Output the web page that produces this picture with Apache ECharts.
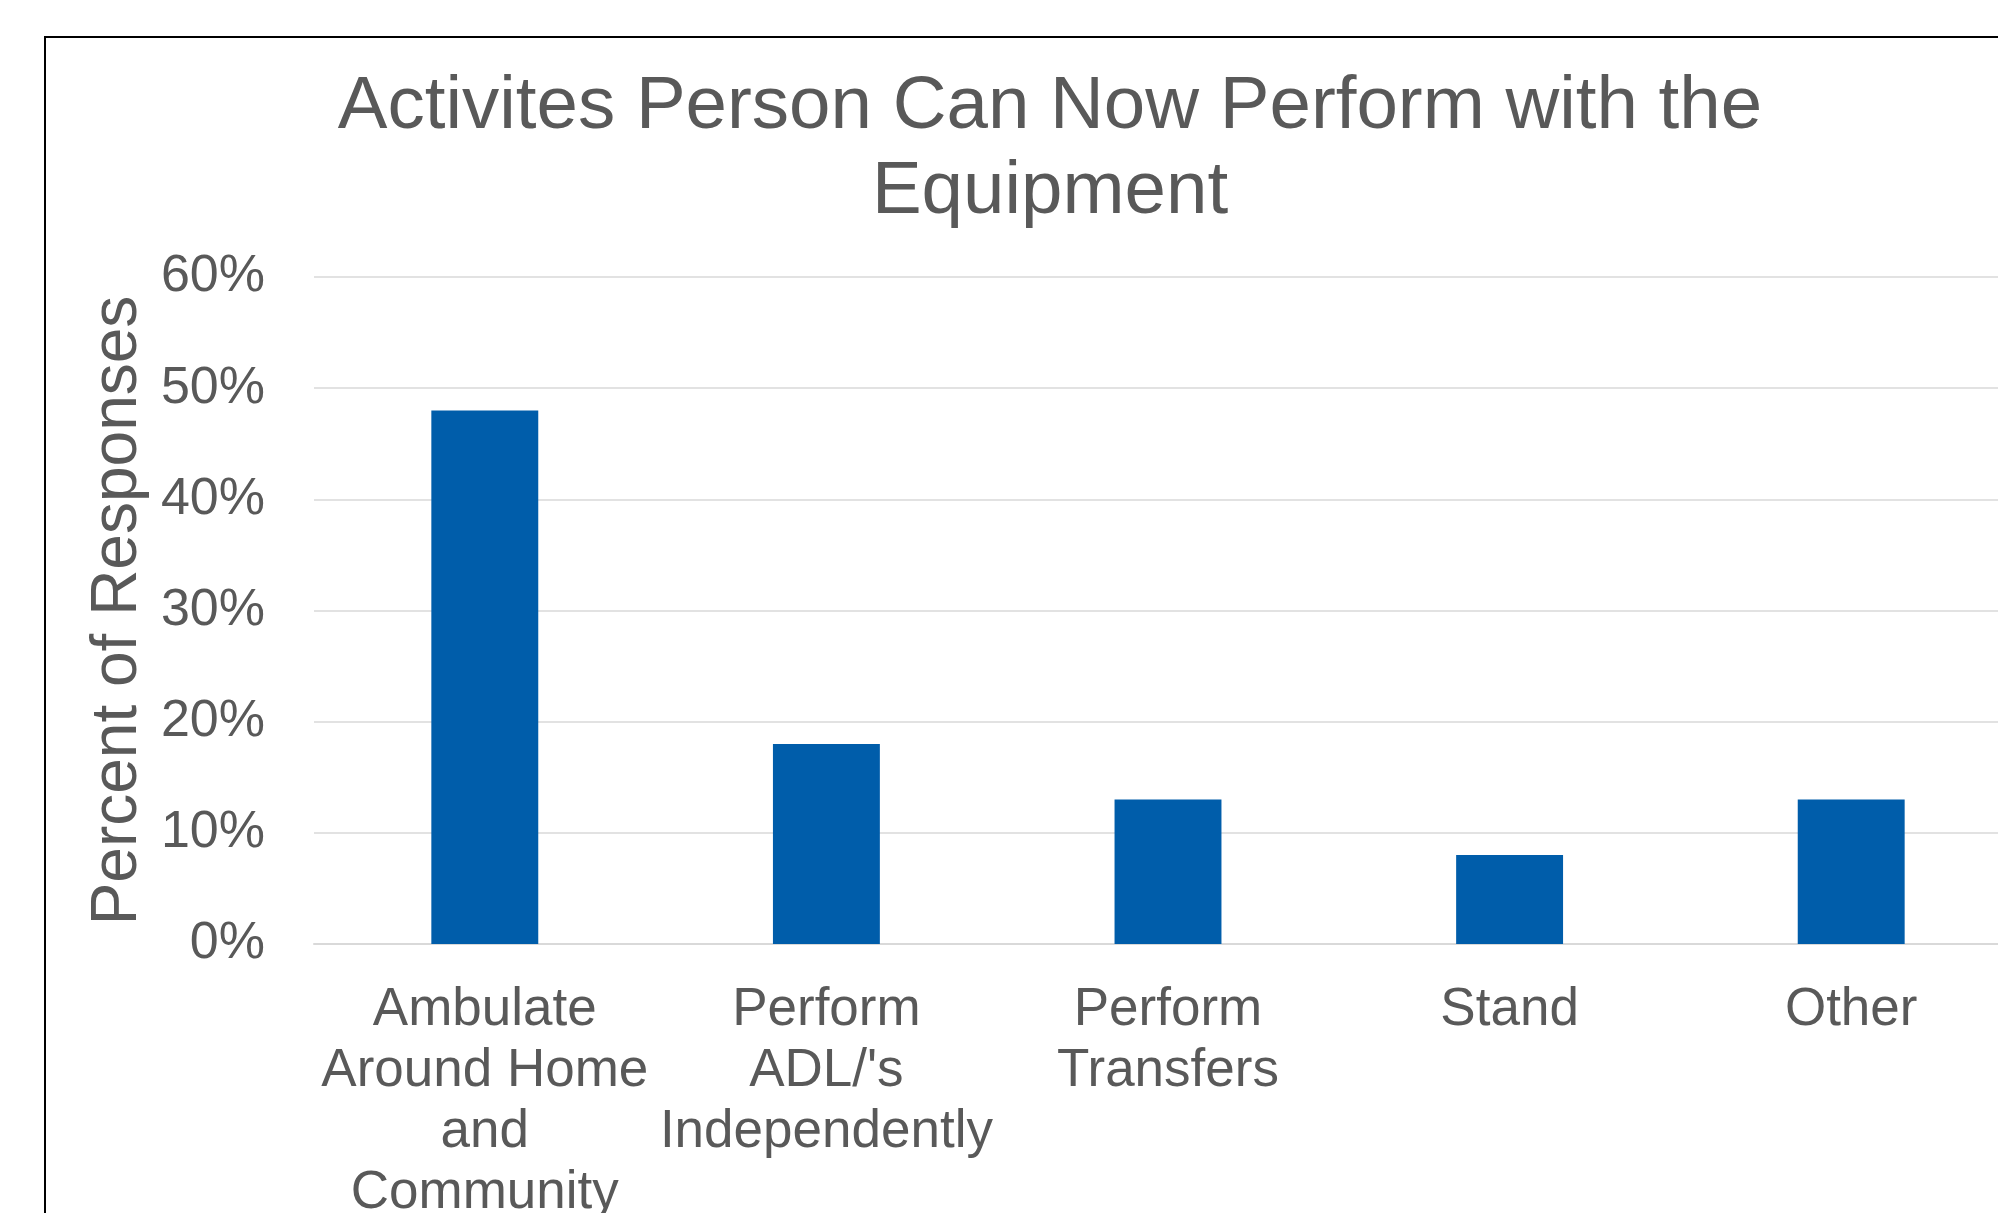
<!DOCTYPE html>
<html>
<head>
<meta charset="utf-8">
<script src="https://cdn.jsdelivr.net/npm/echarts@6/dist/echarts.min.js"></script>
<style>
  html, body { margin: 0; padding: 0; background: #fff; }
  #chart { width: 1998px; height: 1213px; }
</style>
</head>
<body>
<div id="chart"></div>
<script>
const titleText = 'Activites Person Can Now Perform with the\nEquipment';
const yAxisTitle = 'Percent of Responses';
const categories = [
  'Ambulate\nAround Home\nand\nCommunity',
  'Perform\nADL/\'s\nIndependently',
  'Perform\nTransfers',
  'Stand',
  'Other'
];
const values = [48, 18, 13, 8, 13];
const yMin = 0, yMax = 60, yInterval = 10;

const textColor = '#595959';
const fontFamily = '"Liberation Sans", Arial, sans-serif';

const chart = echarts.init(document.getElementById('chart'));
chart.setOption({
  animation: false,
  backgroundColor: '#ffffff',
  title: {
    text: titleText,
    left: 1045,
    top: 60,
    textAlign: 'center',
    textStyle: {
      color: textColor,
      fontFamily: fontFamily,
      fontSize: 74.5,
      fontWeight: 'normal',
      lineHeight: 85
    }
  },
  graphic: [{
    type: 'rect',
    shape: { x: 45, y: 37, width: 2200, height: 1400 },
    style: { fill: 'none', stroke: '#000000', lineWidth: 2 },
    silent: true
  }],
  grid: { left: 314, right: -24, top: 277, bottom: 269, containLabel: false, outerBoundsMode: 'none' },
  xAxis: {
    type: 'category',
    data: categories,
    axisLine: { show: true, lineStyle: { color: '#D9D9D9', width: 2 } },
    axisTick: { show: false },
    axisLabel: {
      color: textColor,
      fontFamily: fontFamily,
      fontSize: 53,
      lineHeight: 61,
      margin: 36,
      interval: 0
    }
  },
  yAxis: {
    type: 'value',
    min: yMin,
    max: yMax,
    interval: yInterval,
    name: yAxisTitle,
    nameLocation: 'middle',
    nameRotate: 90,
    nameGap: 156,
    nameTextStyle: {
      color: textColor,
      fontFamily: fontFamily,
      fontSize: 64
    },
    axisLine: { show: false },
    axisTick: { show: false },
    axisLabel: {
      formatter: '{value}%',
      color: textColor,
      fontFamily: fontFamily,
      fontSize: 52,
      margin: 49
    },
    splitLine: { show: true, lineStyle: { color: '#D9D9D9', width: 1.5 } }
  },
  series: [{
    type: 'bar',
    data: values,
    barWidth: '31.3%',
    itemStyle: { color: '#005DAA' }
  }]
});
</script>
</body>
</html>
